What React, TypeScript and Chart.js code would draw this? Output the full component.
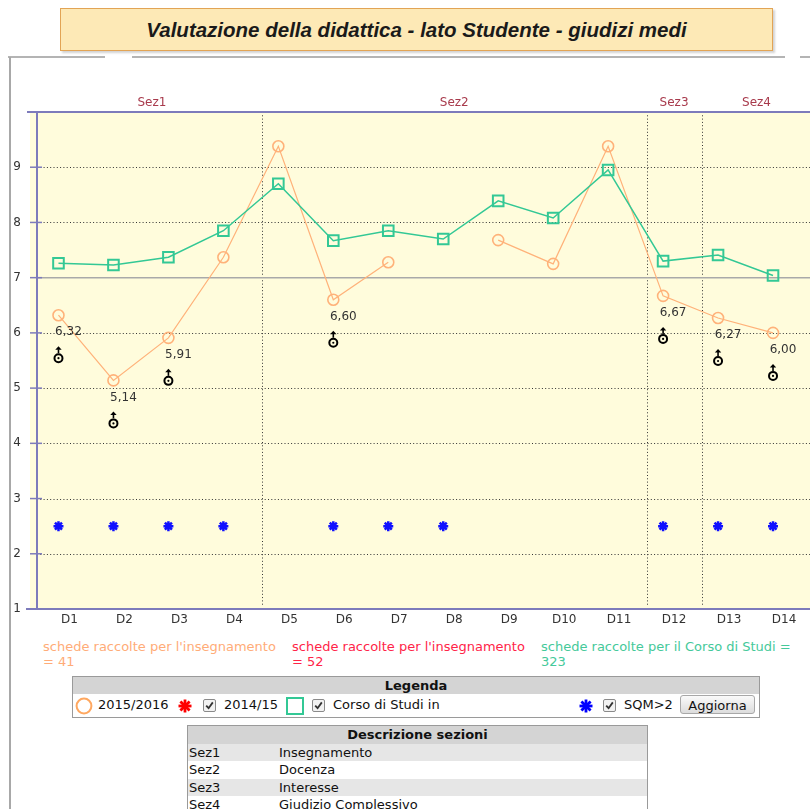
import React, { useEffect, useRef } from 'react';
import { Chart, registerables } from 'chart.js';

Chart.register(...registerables);

// ---------- data ----------
const categories = ['D1', 'D2', 'D3', 'D4', 'D5', 'D6', 'D7', 'D8', 'D9', 'D10', 'D11', 'D12', 'D13', 'D14'];
const values2015 = [6.32, 5.14, 5.91, 7.37, 9.38, 6.6, 7.28, null, 7.68, 7.25, 9.38, 6.67, 6.27, 6.0];
const valuesCorso = [7.26, 7.23, 7.37, 7.85, 8.7, 7.67, 7.85, 7.7, 8.39, 8.08, 8.95, 7.3, 7.41, 7.04];
const valuesSqm = [2.5, 2.5, 2.5, 2.5, null, 2.5, 2.5, 2.5, null, null, null, 2.5, 2.5, 2.5];
const yTicks = [1, 2, 3, 4, 5, 6, 7, 8, 9];
const yMin = 1;
const yMax = 10;
const threshold = 7;
const sectionNames = ['Sez1', 'Sez2', 'Sez3', 'Sez4'];
const sectionFirstIndex = [0, 4, 11, 12];
const sectionDescriptions = ['Insegnamento', 'Docenza', 'Interesse', 'Giudizio Complessivo'];
const countTexts = [
  "schede raccolte per l'insegnamento = 41",
  "schede raccolte per l'insegnamento = 52",
  'schede raccolte per il Corso di Studi = 323',
];
const legendLabels = ['2015/2016', '2014/15', 'Corso di Studi in', 'SQM>2'];

// ---------- styles ----------
const ORANGE = '#ffb27a';
const GREEN = '#33c895';
const BLUE = '#1010ff';
const AXIS = '#7d7bbb';
const LABEL_SHIFT = 11;
const FONT = "'DejaVu Sans', Verdana, sans-serif";
const COUNT_COLORS = ['#ffac78', '#ff2448', '#45c99a'];
const COUNT_WIDTHS = [240, 240, 262];

function fmt(v: number) {
  return v.toFixed(2).replace('.', ',');
}

const decorPlugin = {
  id: 'decor',
  beforeDatasetsDraw(chart: any) {
    const { ctx, chartArea, scales } = chart;
    const x = scales.x;
    const y = scales.y;
    const W = chart.width;
    const top = y.getPixelForValue(yMax);
    const bottom = y.getPixelForValue(yMin);
    const axisX = chartArea.left + 6;
    const step = x.getPixelForValue(1) - x.getPixelForValue(0);
    const line = (x1: number, y1: number, x2: number, y2: number) => {
      ctx.beginPath();
      ctx.moveTo(x1, y1);
      ctx.lineTo(x2, y2);
      ctx.stroke();
    };
    ctx.save();
    ctx.fillStyle = '#fffcdc';
    ctx.fillRect(chartArea.left - 1, top, W - chartArea.left + 1, bottom - top);

    ctx.strokeStyle = '#333';
    ctx.lineWidth = 1;
    ctx.setLineDash([1, 2.3]);
    yTicks.forEach((v) => {
      if (v === yMin || v === threshold) return;
      const py = Math.round(y.getPixelForValue(v)) + 0.5;
      line(axisX, py, W, py);
    });
    sectionFirstIndex.slice(1).forEach((i) => {
      const px = Math.round(x.getPixelForValue(i) - step / 2 + LABEL_SHIFT) + 0.5;
      line(px, top, px, bottom - 4);
    });
    ctx.setLineDash([]);

    ctx.strokeStyle = '#a9a9a9';
    ctx.lineWidth = 1.5;
    const ty = y.getPixelForValue(threshold);
    line(axisX, ty, W, ty);

    ctx.strokeStyle = AXIS;
    ctx.lineWidth = 2;
    line(axisX, top, axisX, bottom);
    line(axisX - 10, top, W, top);
    line(axisX - 11, bottom, W, bottom);
    ctx.lineWidth = 1.5;
    yTicks.forEach((v) => {
      const py = y.getPixelForValue(v);
      line(axisX - 7, py, axisX + 5, py);
    });

    ctx.fillStyle = '#a83a4c';
    ctx.font = `12px ${FONT}`;
    ctx.textAlign = 'center';
    ctx.textBaseline = 'middle';
    sectionNames.forEach((name, k) => {
      const start = x.getPixelForValue(sectionFirstIndex[k]) - step / 2 + LABEL_SHIFT;
      const end =
        k + 1 < sectionFirstIndex.length
          ? x.getPixelForValue(sectionFirstIndex[k + 1]) - step / 2 + LABEL_SHIFT
          : x.getPixelForValue(categories.length - 1) + step / 2 + LABEL_SHIFT;
      ctx.fillText(name, (start + end) / 2, top - 9);
    });
    ctx.restore();
  },
  afterDatasetsDraw(chart: any) {
    const { ctx } = chart;
    const meta = chart.getDatasetMeta(1);
    ctx.save();
    meta.data.forEach((pt: any, i: number) => {
      const v = values2015[i];
      if (v == null || v >= threshold) return;
      ctx.fillStyle = '#333';
      ctx.font = `12px ${FONT}`;
      ctx.textAlign = 'center';
      ctx.textBaseline = 'middle';
      ctx.fillText(fmt(v), pt.x + 10, pt.y + 17);
      const cx = pt.x;
      const cy = pt.y + 43;
      ctx.strokeStyle = '#000';
      ctx.fillStyle = '#000';
      ctx.lineWidth = 2;
      ctx.beginPath();
      ctx.arc(cx, cy, 4, 0, Math.PI * 2);
      ctx.stroke();
      ctx.beginPath();
      ctx.arc(cx, cy, 1.1, 0, Math.PI * 2);
      ctx.fill();
      ctx.lineWidth = 1.6;
      ctx.beginPath();
      ctx.moveTo(cx, cy - 5);
      ctx.lineTo(cx, cy - 9);
      ctx.stroke();
      ctx.beginPath();
      ctx.moveTo(cx - 3.2, cy - 8.5);
      ctx.lineTo(cx, cy - 12);
      ctx.lineTo(cx + 3.2, cy - 8.5);
      ctx.closePath();
      ctx.fill();
    });
    ctx.restore();
  },
};

function ChartCanvas() {
  const ref = useRef<HTMLCanvasElement | null>(null);
  useEffect(() => {
    if (!ref.current) return;
    const chart = new Chart(ref.current, {
      type: 'line',
      data: {
        labels: categories,
        datasets: [
          {
            label: legendLabels[2],
            data: valuesCorso,
            borderColor: GREEN,
            borderWidth: 1.5,
            pointStyle: 'rect',
            pointRadius: 7.5,
            pointBorderWidth: 2,
            pointBorderColor: GREEN,
            pointBackgroundColor: 'rgba(0,0,0,0)',
            tension: 0,
          },
          {
            label: legendLabels[0],
            data: values2015,
            borderColor: ORANGE,
            borderWidth: 1.2,
            pointStyle: 'circle',
            pointRadius: 5.5,
            pointBorderWidth: 1.6,
            pointBorderColor: ORANGE,
            pointBackgroundColor: 'rgba(0,0,0,0)',
            spanGaps: false,
            tension: 0,
          },
          {
            label: legendLabels[3],
            data: valuesSqm,
            showLine: false,
            pointStyle: 'star',
            pointRadius: 5,
            pointBorderWidth: 2.5,
            pointBorderColor: BLUE,
            pointBackgroundColor: BLUE,
          },
        ],
      } as any,
      options: {
        responsive: false,
        animation: false,
        layout: { padding: { top: 52, left: 0, right: 6, bottom: 0 } },
        plugins: { legend: { display: false }, tooltip: { enabled: false }, title: { display: false } },
        scales: {
          x: {
            type: 'category',
            offset: true,
            grid: { display: false, drawTicks: false },
            border: { display: false },
            ticks: {
              color: '#333',
              font: { family: FONT, size: 12 },
              padding: 4,
              labelOffset: LABEL_SHIFT,
              maxRotation: 0,
              autoSkip: false,
            },
            afterFit: (s: any) => {
              s.height = 26;
            },
          },
          y: {
            min: yMin,
            max: yMax,
            grid: { display: false, drawTicks: false },
            border: { display: false },
            ticks: {
              stepSize: 1,
              color: '#333',
              font: { family: FONT, size: 12 },
              padding: 10,
              callback: (v: any) => (yTicks.includes(Number(v)) ? String(v) : ''),
            },
            afterFit: (s: any) => {
              s.width = 31;
            },
          },
        },
      } as any,
      plugins: [decorPlugin],
    });
    return () => chart.destroy();
  }, []);
  return (
    <canvas
      ref={ref}
      width={810}
      height={575}
      style={{ position: 'absolute', left: 0, top: 60, width: 810, height: 575, zIndex: 2 }}
    />
  );
}

function Asterisk({ color, size = 16 }: { color: string; size?: number }) {
  const c = size / 2;
  const r = size / 2 - 1.5;
  const lines = [0, 45, 90, 135].map((a) => {
    const rad = (a * Math.PI) / 180;
    return (
      <line
        key={a}
        x1={c - Math.cos(rad) * r}
        y1={c - Math.sin(rad) * r}
        x2={c + Math.cos(rad) * r}
        y2={c + Math.sin(rad) * r}
        stroke={color}
        strokeWidth={2.8}
      />
    );
  });
  return (
    <svg width={size} height={size} style={{ display: 'block' }}>
      {lines}
    </svg>
  );
}

function CheckBox() {
  return (
    <svg width={13} height={13} style={{ display: 'block' }}>
      <rect x={0.5} y={0.5} width={12} height={12} rx={1.5} fill="#f2f2f2" stroke="#8a8a8a" />
      <path d="M3.2 6.6 L5.6 9.2 L9.8 3.4" stroke="#333" strokeWidth={1.8} fill="none" />
    </svg>
  );
}

const abs = (left: number, top: number, extra: any = {}) => ({ position: 'absolute' as const, left, top, ...extra });

export default function App() {
  return (
    <div
      style={{
        position: 'absolute',
        left: 0,
        top: 0,
        width: 810,
        height: 809,
        overflow: 'hidden',
        background: '#fff',
        fontFamily: FONT,
        color: '#111',
      }}
    >
      {/* title */}
      <div
        style={abs(60, 8, {
          width: 711,
          height: 41,
          border: '1px solid #e2a455',
          background: '#fde9b6',
          boxShadow: '2px 2px 2px rgba(0,0,0,0.18)',
          display: 'flex',
          alignItems: 'center',
          justifyContent: 'center',
          fontFamily: "'Liberation Sans Narrow', 'Liberation Sans', sans-serif",
          fontStyle: 'italic',
          fontWeight: 'bold',
          fontSize: 20.5,
          color: '#1a1a1a',
        })}
      >
        Valutazione della didattica - lato Studente - giudizi medi
      </div>

      {/* frame */}
      <div style={abs(8, 56, { width: 97, height: 2, background: '#b4b4b4' })} />
      <div style={abs(132, 56, { width: 653, height: 2, background: '#b4b4b4' })} />
      <div style={abs(800, 56, { width: 10, height: 2, background: '#b4b4b4' })} />
      <div style={abs(9, 57, { width: 2, height: 760, background: '#a8a8a8' })} />

      <ChartCanvas />

      {/* counts */}
      {countTexts.map((t, i) => (
        <div
          key={i}
          style={abs(43 + i * 249, 639, {
            width: COUNT_WIDTHS[i],
            fontSize: 13,
            lineHeight: '15px',
            color: COUNT_COLORS[i],
          })}
        >
          {t}
        </div>
      ))}

      {/* legend */}
      <div style={abs(72, 676, { width: 686, height: 40, border: '1px solid #9a9a9a', background: '#fff', fontSize: 13 })}>
        <div
          style={{
            height: 17,
            background: '#d4d4d4',
            textAlign: 'center',
            fontWeight: 'bold',
            lineHeight: '17px',
          }}
        >
          Legenda
        </div>
        <div style={{ position: 'relative', height: 23 }}>
          <svg width={18} height={18} style={{ position: 'absolute', left: 2, top: 3 }}>
            <circle cx={9} cy={9} r={7.4} stroke="#ffa860" strokeWidth={2} fill="none" />
          </svg>
          <span style={abs(25, 3)}>{legendLabels[0]}</span>
          <div style={abs(104, 4)}>
            <Asterisk color="#ff0000" />
          </div>
          <div style={abs(130, 5)}>
            <CheckBox />
          </div>
          <span style={abs(151, 3)}>{legendLabels[1]}</span>
          <svg width={18} height={18} style={{ position: 'absolute', left: 213, top: 3 }}>
            <rect x={1} y={1} width={16} height={16} stroke="#33c895" strokeWidth={2} fill="none" />
          </svg>
          <div style={abs(239, 5)}>
            <CheckBox />
          </div>
          <span style={abs(260, 3)}>{legendLabels[2]}</span>
          <div style={abs(505, 4)}>
            <Asterisk color="#0000ff" />
          </div>
          <div style={abs(530, 5)}>
            <CheckBox />
          </div>
          <span style={abs(551, 3)}>{legendLabels[3]}</span>
          <div
            style={abs(607, 1, {
              width: 75,
              height: 19,
              border: '1px solid #a8a8a8',
              borderRadius: 3,
              background: 'linear-gradient(#fafafa, #dcdcdc)',
              textAlign: 'center',
              lineHeight: '19px',
              boxSizing: 'border-box',
              color: '#111',
            })}
          >
            Aggiorna
          </div>
        </div>
      </div>

      {/* sections description */}
      <div style={abs(187, 725, { width: 459, border: '1px solid #9a9a9a', fontSize: 13, background: '#fff' })}>
        <div style={{ height: 18, lineHeight: '18px', background: '#d4d4d4', textAlign: 'center', fontWeight: 'bold' }}>
          Descrizione sezioni
        </div>
        {sectionNames.map((n, i) => (
          <div
            key={n}
            style={{
              position: 'relative',
              height: 17.4,
              lineHeight: '17px',
              background: i % 2 === 0 ? '#e6e6e6' : '#fff',
            }}
          >
            <span style={abs(1, 0)}>{n}</span>
            <span style={abs(91, 0)}>{sectionDescriptions[i]}</span>
          </div>
        ))}
      </div>
    </div>
  );
}
